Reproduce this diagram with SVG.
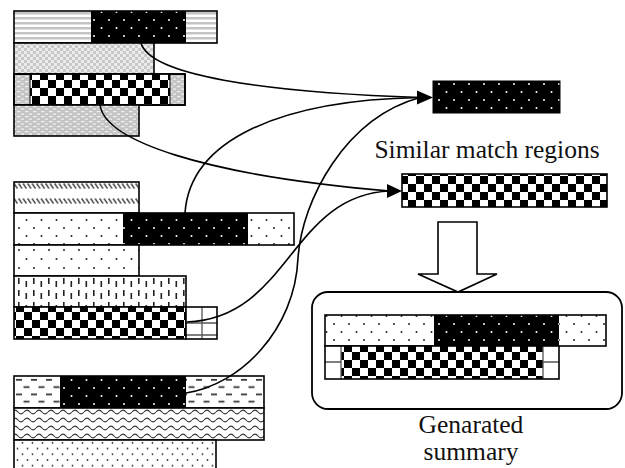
<svg xmlns="http://www.w3.org/2000/svg" width="625" height="468" viewBox="0 0 625 468">
  <style>
    .box { stroke: #000; stroke-width: 1.6; }
    .edge { fill: none; stroke: #000; stroke-width: 1.6; }
    .grid { fill: none; stroke: #555; stroke-width: 1.3; }
    .wire { fill: none; stroke: #000; stroke-width: 1.6; }
    .head { fill: #000; stroke: none; }
    .label { font-family: "Liberation Serif", "Times New Roman", serif; font-size: 25.5px; fill: #111; text-anchor: middle; }
  </style>
  <defs>
    <!-- horizontal gray stripes -->
    <pattern id="pStripe" width="10" height="5" patternUnits="userSpaceOnUse" y="11">
      <rect width="10" height="5" fill="#fff"/>
      <rect y="1" width="10" height="2" fill="#c4c4c4"/>
      <rect y="3" width="10" height="1" fill="#e2e2e2"/>
    </pattern>
    <!-- fine gray checker -->
    <pattern id="pGrayChk" width="6" height="6" patternUnits="userSpaceOnUse">
      <rect width="6" height="6" fill="#ececec"/>
      <rect width="3" height="3" fill="#c8c8c8"/>
      <rect x="3" y="3" width="3" height="3" fill="#c8c8c8"/>
    </pattern>
    <!-- gray with light dashes -->
    <pattern id="pGrayDash" width="8" height="5" patternUnits="userSpaceOnUse">
      <rect width="8" height="5" fill="#c4c4c4"/>
      <rect x="1" y="1" width="3.5" height="1.2" fill="#f2f2f2"/>
      <rect x="5" y="3.5" width="3.5" height="1.2" fill="#f2f2f2"/>
    </pattern>
    <!-- black and white checkerboard -->
    <pattern id="pChk" width="16" height="16" patternUnits="userSpaceOnUse">
      <rect width="16" height="16" fill="#fff"/>
      <rect width="8" height="8" fill="#000"/>
      <rect x="8" y="8" width="8" height="8" fill="#000"/>
    </pattern>
    <!-- black with white dots -->
    <pattern id="pBlackDots" width="15" height="16" patternUnits="userSpaceOnUse">
      <rect width="15" height="16" fill="#000"/>
      <circle cx="4" cy="4" r="1" fill="#fff"/>
      <circle cx="11.5" cy="12" r="1" fill="#fff"/>
    </pattern>
    <!-- white with black dots -->
    <pattern id="pDots" width="15" height="16" patternUnits="userSpaceOnUse">
      <rect width="15" height="16" fill="#fff"/>
      <circle cx="4" cy="4" r="1" fill="#222"/>
      <circle cx="11.5" cy="12" r="1" fill="#222"/>
    </pattern>
    <!-- sparse dots -->
    <pattern id="pSparse" width="15" height="18" patternUnits="userSpaceOnUse" y="245">
      <rect width="15" height="18" fill="#fff"/>
      <circle cx="4" cy="5" r="1" fill="#222"/>
      <circle cx="11.5" cy="14" r="1" fill="#222"/>
    </pattern>
    <!-- vertical dashes -->
    <pattern id="pVDash" width="15" height="12" patternUnits="userSpaceOnUse" y="276">
      <rect width="15" height="12" fill="#fff"/>
      <rect x="3" y="2" width="1.6" height="6" fill="#222"/>
      <rect x="10.5" y="5" width="1.6" height="6" fill="#222"/>
    </pattern>
    <!-- diagonal hatch bands -->
    <pattern id="pDiag" width="4.5" height="15" patternUnits="userSpaceOnUse" y="182">
      <rect width="4.5" height="15" fill="#fff"/>
      <line x1="0.6" y1="1.5" x2="4" y2="6.5" stroke="#444" stroke-width="1.4"/>
    </pattern>
    <!-- horizontal dashes -->
    <pattern id="pHDash" width="15" height="14.6" patternUnits="userSpaceOnUse" y="376">
      <rect width="15" height="14.6" fill="#fff"/>
      <rect x="1" y="3" width="6" height="1.6" fill="#222"/>
      <rect x="8.5" y="10.3" width="6" height="1.6" fill="#222"/>
    </pattern>
    <!-- wavy lines -->
    <pattern id="pWave" width="12" height="8" patternUnits="userSpaceOnUse" y="408">
      <rect width="12" height="8" fill="#fff"/>
      <path d="M0,4 C2,1.5 4,1.5 6,4 S10,6.5 12,4" fill="none" stroke="#333" stroke-width="1.1"/>
    </pattern>
    <!-- staggered small dots -->
    <pattern id="pDiagDots" width="10" height="11.4" patternUnits="userSpaceOnUse" y="440">
      <rect width="10" height="11.4" fill="#fff"/>
      <circle cx="2.5" cy="2.8" r="0.9" fill="#333"/>
      <circle cx="7.5" cy="8.5" r="0.9" fill="#333"/>
    </pattern>
  </defs>

  <rect width="625" height="468" fill="#fff"/>

  <!-- first source document -->
  <g id="doc1">
    <rect x="14" y="11" width="203" height="32" fill="url(#pStripe)"/>
    <rect x="91" y="11" width="95" height="32" fill="url(#pBlackDots)"/>
    <rect class="edge" x="14" y="11" width="203" height="32"/>
    <rect class="box" x="14" y="43" width="140" height="31" fill="url(#pGrayChk)"/>
    <rect class="box" x="14" y="74" width="171" height="31" fill="url(#pGrayDash)"/>
    <rect x="30" y="74" width="140" height="31" fill="url(#pChk)" stroke="#000" stroke-width="1"/>
    <rect class="edge" x="14" y="74" width="171" height="31"/>
    <rect class="box" x="14" y="105" width="125" height="31" fill="url(#pGrayDash)"/>
  </g>

  <!-- second source document -->
  <g id="doc2">
    <rect class="box" x="14" y="182" width="125" height="31" fill="url(#pDiag)"/>
    <rect x="14" y="213" width="280" height="32" fill="url(#pDots)"/>
    <rect x="123" y="213" width="125" height="32" fill="url(#pBlackDots)"/>
    <rect class="edge" x="14" y="213" width="280" height="32"/>
    <rect class="box" x="14" y="245" width="125" height="31" fill="url(#pSparse)"/>
    <rect class="box" x="14" y="276" width="172" height="31" fill="url(#pVDash)"/>
    <rect class="box" x="14" y="307" width="172" height="32" fill="url(#pChk)"/>
    <rect x="186" y="307" width="31" height="32" fill="#fff"/>
    <path class="grid" d="M202,307 V339 M186,323 H217 M186,335 H217"/>
    <rect class="edge" x="186" y="307" width="31" height="32"/>
  </g>

  <!-- third source document -->
  <g id="doc3">
    <rect x="14" y="376" width="250" height="32" fill="url(#pHDash)"/>
    <rect x="60" y="376" width="126" height="32" fill="url(#pBlackDots)"/>
    <rect class="edge" x="14" y="376" width="250" height="32"/>
    <rect class="box" x="14" y="408" width="250" height="32" fill="url(#pWave)"/>
    <rect class="box" x="14" y="440" width="202" height="35" fill="url(#pDiagDots)"/>
  </g>

  <!-- matched regions -->
  <g id="match-dots">
    <rect x="433" y="81" width="127" height="32" fill="url(#pBlackDots)" stroke="#000" stroke-width="1"/>
  </g>
  <g id="match-checker">
    <rect class="box" x="402" y="174" width="205" height="33" fill="url(#pChk)"/>
  </g>
  <g id="match-label">
    <text class="label" x="487" y="158">Similar match regions</text>
  </g>

  <!-- block arrow -->
  <g id="down-arrow">
    <polygon points="438,222 477,222 477,274 497,274 458,292 418,274 438,274" fill="#fff" stroke="#000" stroke-width="1.6" stroke-linejoin="miter"/>
  </g>

  <!-- summary -->
  <g id="summary">
    <rect x="312" y="292" width="310" height="117" rx="16" fill="#fff" stroke="#000" stroke-width="1.8"/>
    <rect x="325" y="315" width="281" height="31" fill="url(#pDots)"/>
    <rect x="434" y="315" width="125" height="31" fill="url(#pBlackDots)"/>
    <rect class="edge" x="325" y="315" width="281" height="31"/>
    <rect x="325" y="346" width="234" height="33" fill="#fff"/>
    <rect x="341" y="346" width="202" height="33" fill="url(#pChk)"/>
    <path class="grid" d="M325,362 H341 M543,362 H559 M341,346 V379 M543,346 V379"/>
    <rect class="edge" x="325" y="346" width="234" height="33"/>
  </g>
  <g id="summary-label">
    <text class="label" x="471" y="433">Genarated</text>
    <text class="label" x="471" y="460">summary</text>
  </g>

  <!-- connectors -->
  <g id="connectors">
    <path class="wire" d="M141,43 C150,75 260,92 420,97.5"/>
    <path class="wire" d="M100,105 C105,140 200,175 390,191"/>
    <path class="wire" d="M185,213 C190,140 280,100 420,97.5"/>
    <path class="wire" d="M187,322 C290,318 290,195 390,191"/>
    <path class="wire" d="M186,393 C240,385 295,330 298,258 C302,200 345,118 420,97.5"/>
    <polygon class="head" points="417,90.5 433,97.5 417,104.5"/>
    <polygon class="head" points="387,184 402,191 387,198"/>
  </g>
</svg>
